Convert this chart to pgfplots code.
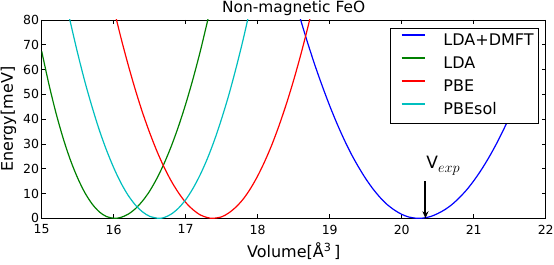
\documentclass[border=0pt]{standalone}
\usepackage{pgfplots}
\pgfplotsset{compat=1.18}
\usepackage{fontspec}
\setmainfont{DejaVu Sans}
\usetikzlibrary{calc,arrows.meta}
\definecolor{mplblue}{rgb}{0,0,1}
\definecolor{mplgreen}{rgb}{0,0.5,0}
\definecolor{mplred}{rgb}{1,0,0}
\definecolor{mplcyan}{rgb}{0,0.75,0.75}
\begin{document}
\begin{tikzpicture}
\begin{axis}[name=ax, at={(0,0)}, anchor=south west,
  scale only axis, width=504pt, height=198.3pt,
  xmin=15, xmax=22, ymin=0, ymax=80,
  xtick={15,16,...,22}, ytick={0,10,...,80},
  tick align=inside, major tick length=4pt,
  tick style={black, line width=0.6pt},
  axis line style={black, line width=0.8pt},
  /pgf/number format/assume math mode=true,
  ticklabel style={font=\fontsize{12.5}{14}\selectfont},
  xticklabel style={yshift=-3pt},
  yticklabel style={xshift=0.8pt},
  xlabel={Volume[Å\textsuperscript{3}\,]},
  ylabel={Energy[meV]},
  xlabel style={font=\fontsize{16}{18}\selectfont, at={(axis description cs:0.5,-0.1977)}, anchor=base},
  ylabel style={font=\fontsize{16}{18}\selectfont, at={(axis description cs:-0.066,0.5)}, anchor=center},
  title={Non-magnetic FeO},
  every axis title shift=0pt,
  title style={font=\fontsize{15.4}{17}\selectfont, at={(axis description cs:0.5,1.0388)}, anchor=base},
  legend cell align=left,
  legend image code/.code={\path (0pt,0pt); \path[#1, draw, fill=none, line width=1.6pt] (5.7pt,6.5pt) -- (28.7pt,6.5pt);},
  legend style={at={(rel axis cs:0.9867,0.958)}, anchor=north east,
    draw=black, fill=white, line width=0.8pt,
    font=\fontsize{16}{18}\selectfont,
    inner xsep=5pt, inner ysep=4.8pt, row sep=7pt,
    nodes={inner sep=0pt, text height=12pt, text depth=4pt},
    /tikz/column 1/.style={column sep=18pt}},
]
\addplot[color=mplblue, line width=1.2pt, smooth] coordinates {
(18.5,89.8)(18.6,79.7)(18.7,70.2)(18.8,61.3)(18.9,53.1)(19.0,45.4)(19.1,38.3)(19.2,31.8)(19.3,25.9)(19.4,20.7)(19.5,16.0)(19.6,11.9)(19.7,8.4)(19.8,5.5)(19.9,3.3)(20.0,1.6)(20.1,0.5)(20.2,0.03)(20.23,0)(20.3,0.1)(20.4,0.7)(20.5,1.9)(20.6,3.5)(20.7,5.6)(20.8,8.3)(20.9,11.4)(21.0,15.1)(21.1,19.3)(21.2,24.0)(21.3,29.2)(21.4,34.9)(21.5,41.1)(21.6,47.9)(21.7,55.1)(21.8,62.9)(21.9,71.1)
};
\addlegendentry{LDA+DMFT}
\addplot[color=mplgreen, line width=1.2pt, smooth] coordinates {
(15.0,67.4)(15.1,54.1)(15.2,42.3)(15.3,32.1)(15.4,23.4)(15.5,16.2)(15.6,10.3)(15.7,5.8)(15.8,2.6)(15.9,0.7)(16.01,0)(16.1,0.37)(16.2,1.64)(16.3,3.83)(16.4,6.97)(16.5,11.0)(16.6,16.1)(16.7,22.1)(16.8,29.1)(16.9,37.1)(17.0,46.1)(17.1,56.1)(17.2,67.1)(17.3,79.2)(17.35,85.6)
};
\addlegendentry{LDA}
\addplot[color=mplred, line width=1.2pt, smooth] coordinates {
(16.0,84.7)(16.1,72.9)(16.2,62.0)(16.3,51.9)(16.4,42.7)(16.5,34.5)(16.6,27.1)(16.7,20.6)(16.8,15.0)(16.9,10.3)(17.0,6.4)(17.1,3.5)(17.2,1.4)(17.3,0.3)(17.38,0)(17.5,0.6)(17.6,2.2)(17.7,4.6)(17.8,7.8)(17.9,12.0)(18.0,17.1)(18.1,23.1)(18.2,29.9)(18.3,37.7)(18.4,46.3)(18.5,55.8)(18.6,66.2)(18.7,77.5)(18.8,89.7)
};
\addlegendentry{PBE}
\addplot[color=mplcyan, line width=1.2pt, smooth] coordinates {
(15.35,85.5)(15.4,78.9)(15.5,66.5)(15.6,55.1)(15.7,44.9)(15.8,35.6)(15.9,27.5)(16.0,20.4)(16.1,14.3)(16.2,9.3)(16.3,5.4)(16.4,2.6)(16.5,0.8)(16.62,0)(16.7,0.3)(16.8,1.7)(16.9,4.1)(17.0,7.5)(17.1,12.0)(17.2,17.5)(17.3,24.0)(17.4,31.6)(17.5,40.3)(17.6,49.9)(17.7,60.7)(17.8,72.4)(17.9,85.2)
};
\addlegendentry{PBEsol}
\draw[black, line width=2pt, -{Stealth[length=7pt,width=6pt]}] (axis cs:20.33,15) -- (axis cs:20.33,0);
\node[anchor=base west, inner sep=0pt, font=\fontsize{17}{19}\selectfont] at (axis cs:20.34,20.2) {V\raisebox{-0.25em}{\fontsize{14}{15}\selectfont$exp$}};
\end{axis}
\pgfresetboundingbox
\path[use as bounding box] ($(ax.south west)+(-41.7pt,-46.7pt)$) rectangle ($(ax.north east)+(8.3pt,20pt)$);
\end{tikzpicture}
\end{document}
